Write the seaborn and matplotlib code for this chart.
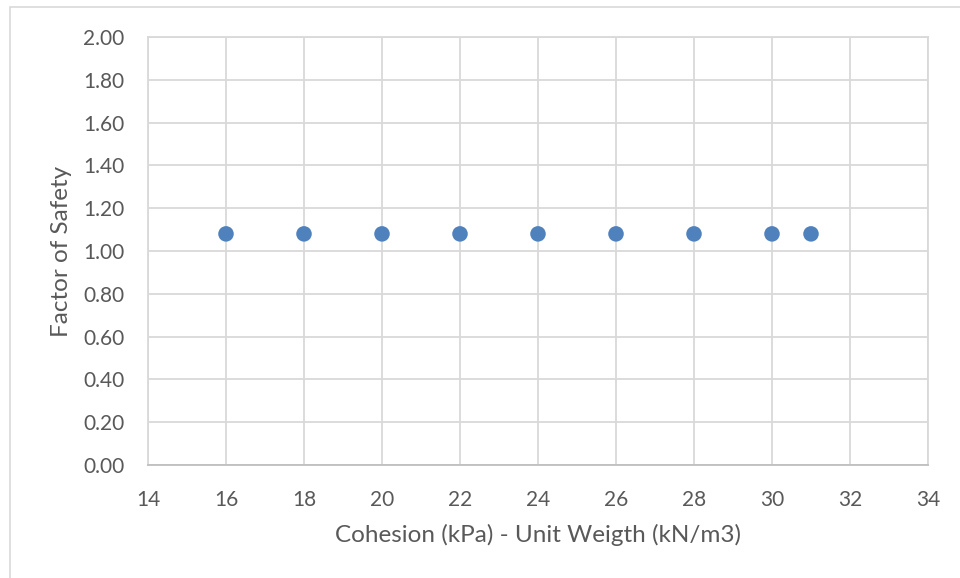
import matplotlib
matplotlib.use("Agg")
import matplotlib.pyplot as plt
import seaborn as sns
import pandas as pd
from matplotlib.patches import Rectangle

cohesion = [16, 18, 20, 22, 24, 26, 28, 30, 31]
fos = [1.08, 1.08, 1.08, 1.08, 1.08, 1.08, 1.08, 1.08, 1.08]
xticks = [14, 16, 18, 20, 22, 24, 26, 28, 30, 32, 34]
yticks = [0.0, 0.2, 0.4, 0.6, 0.8, 1.0, 1.2, 1.4, 1.6, 1.8, 2.0]

df = pd.DataFrame({"x": cohesion, "y": fos})

sns.set_theme(style="white")
plt.rcParams['font.family'] = ['Lato', 'DejaVu Sans']

fig = plt.figure(figsize=(9.6, 5.78), dpi=100)
ax = fig.add_axes([148/960, 1 - 465/578, (928-148)/960, (465-37)/578])

sns.scatterplot(data=df, x="x", y="y", ax=ax, color="#4F81BD", s=125,
                edgecolor="none", zorder=3)

ax.set_xlim(14, 34)
ax.set_ylim(0, 2.0)
ax.set_xticks(xticks)
ax.set_yticks(yticks)
ax.set_xticklabels([str(t) for t in xticks])
ax.set_yticklabels([f"{t:.2f}" for t in yticks])
ax.grid(True, color="#D9D9D9", linewidth=1.3)
ax.set_axisbelow(True)
for sp in ax.spines.values():
    sp.set_color("#D9D9D9")
    sp.set_linewidth(1.3)
ax.spines['bottom'].set_color("#BFBFBF")
ax.tick_params(axis='y', length=0, labelsize=15, colors="#595959", pad=17)
ax.tick_params(axis='x', length=0, labelsize=15, colors="#595959", pad=18)
ax.set_xlabel("Cohesion (kPa) - Unit Weigth (kN/m3)", fontsize=17.5, color="#595959", va="center")
ax.set_ylabel("Factor of Safety", fontsize=17.5, color="#595959", va="center")
ax.xaxis.set_label_coords(0.5, (465 - 535) / 428)
ax.yaxis.set_label_coords((62 - 148) / 780, 0.5)

fig.patches.append(Rectangle((10/960, -0.1), 1.2, 1 - 7/578 + 0.1,
                             transform=fig.transFigure, fill=False,
                             edgecolor="#D9D9D9", linewidth=1.2))

fig.savefig("out.png", dpi=100)
